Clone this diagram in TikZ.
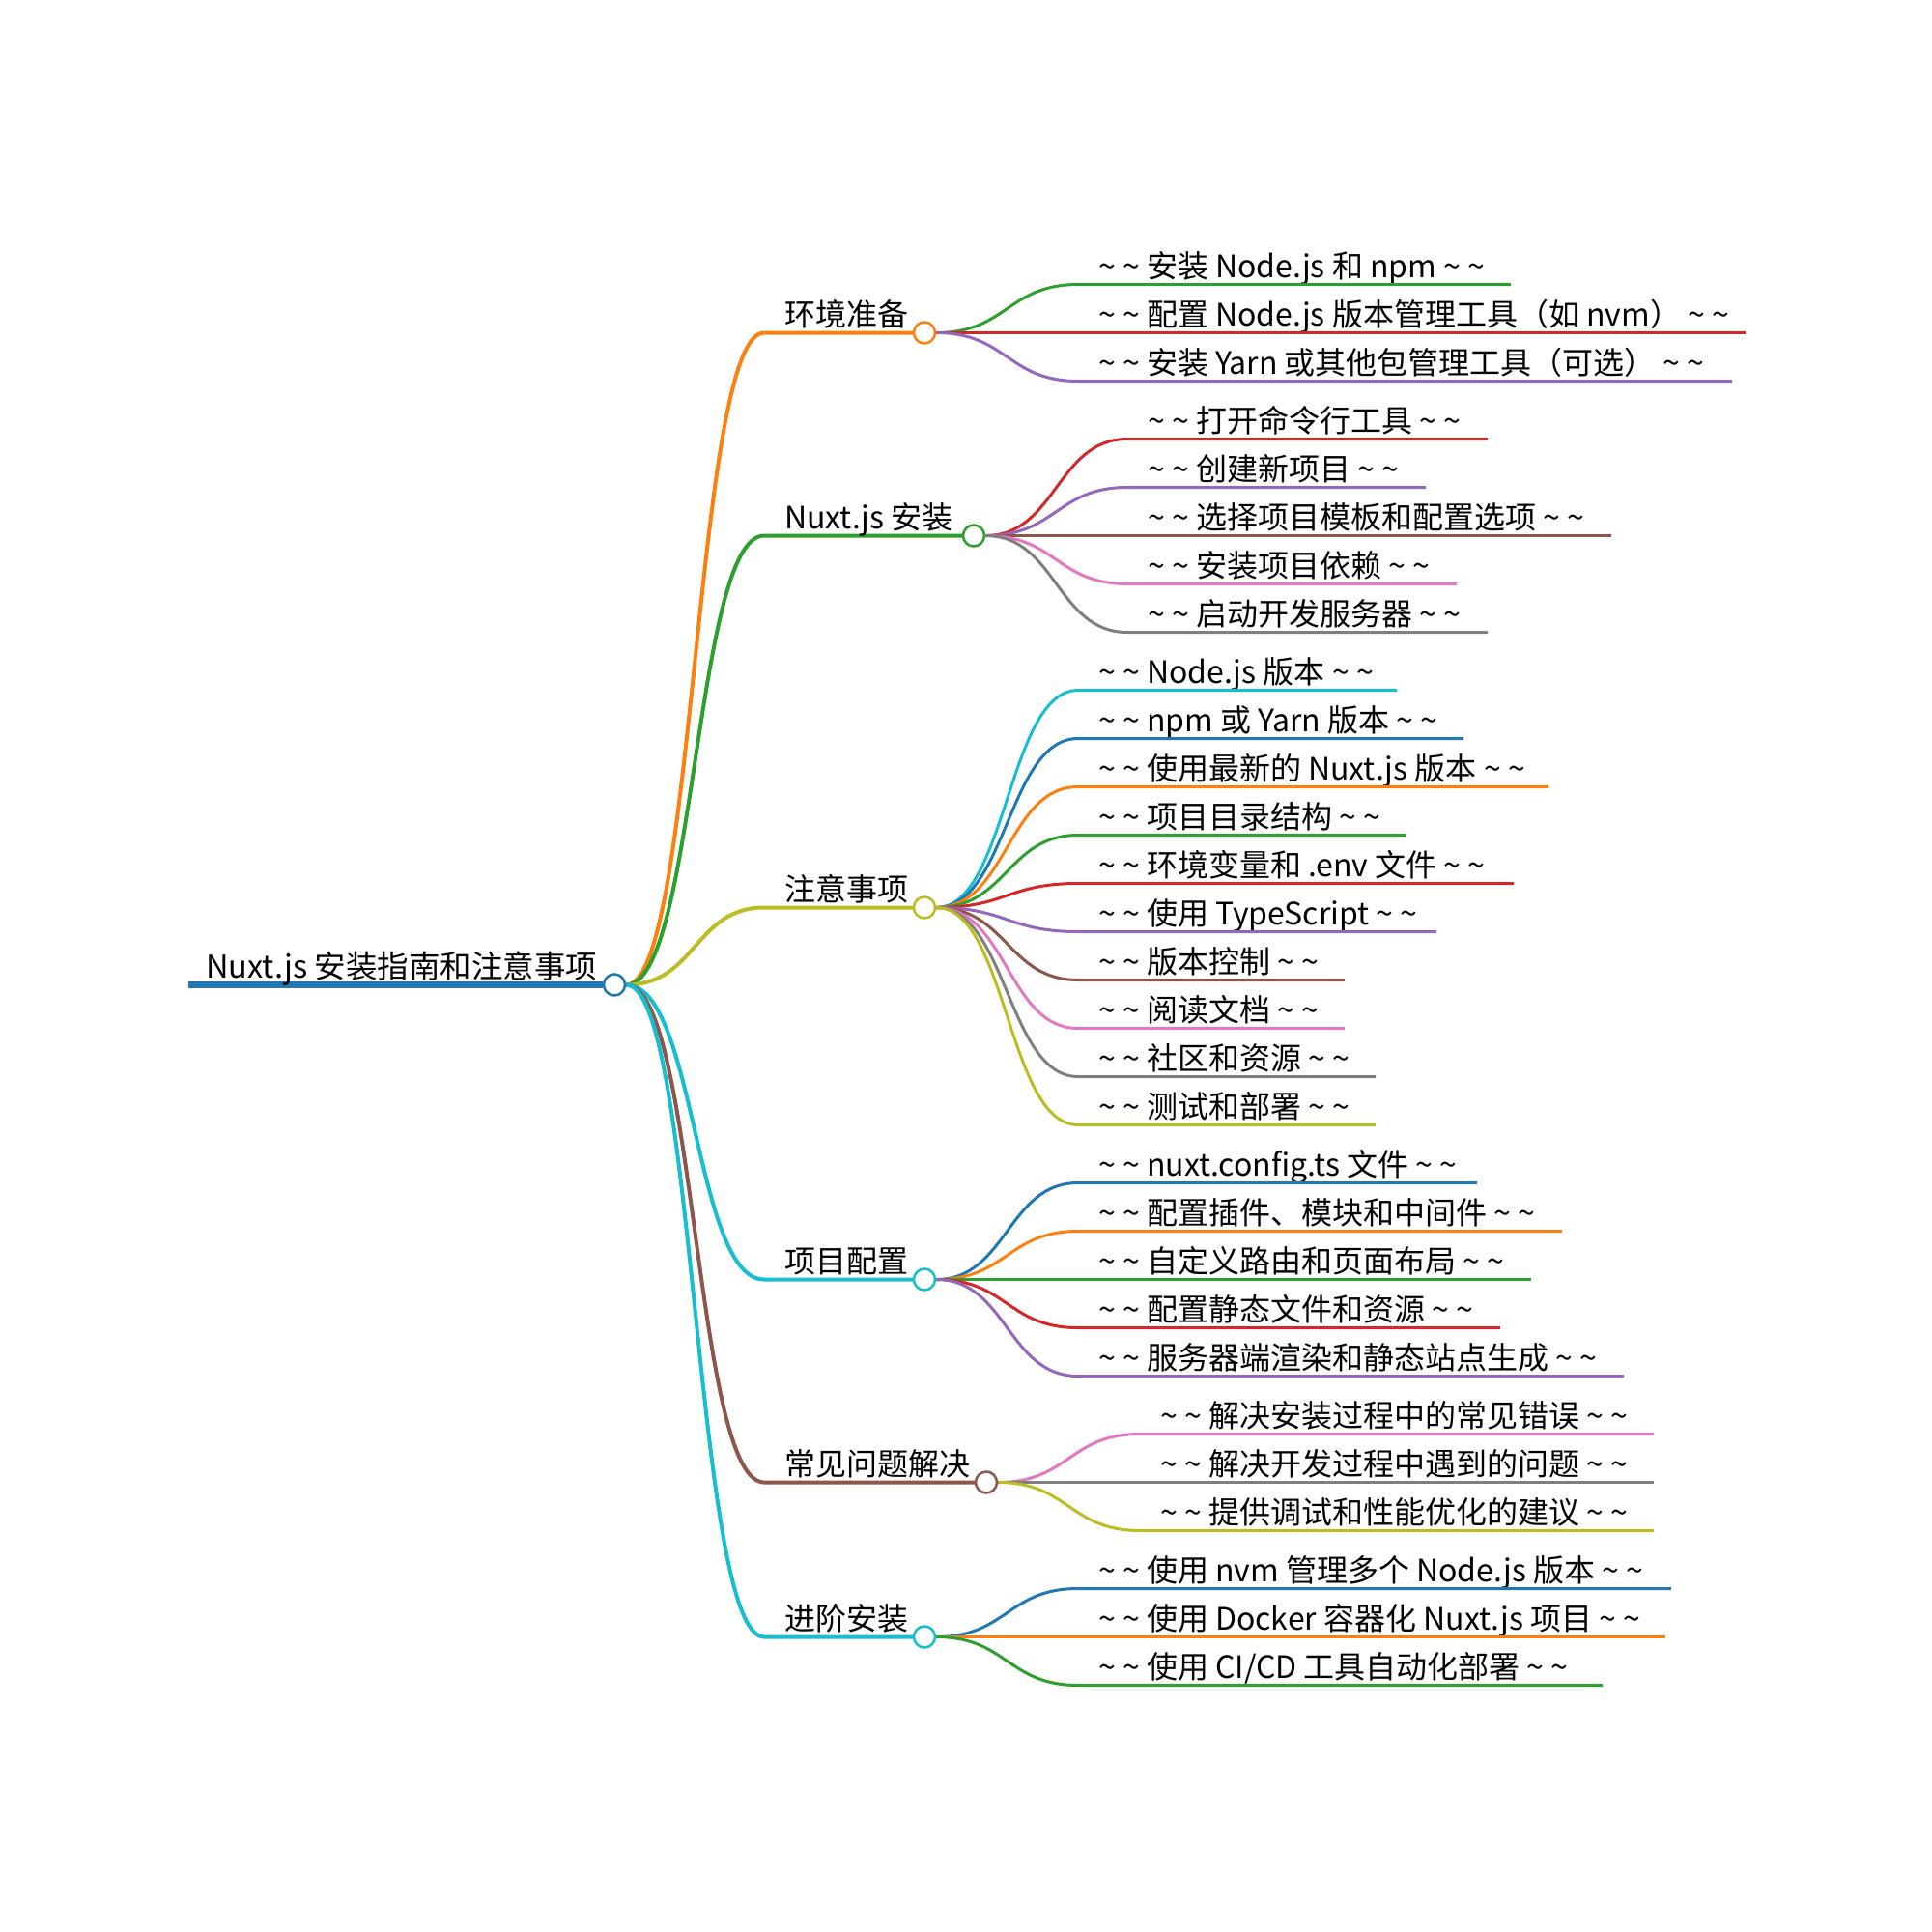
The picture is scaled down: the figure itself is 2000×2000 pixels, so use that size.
\documentclass[tikz,border=0pt]{standalone}
\usepackage{fontspec}
\setmainfont{Noto Sans CJK SC}
\usetikzlibrary{backgrounds}
\definecolor{cblue}{HTML}{1F77B4}
\definecolor{corange}{HTML}{FF7F0E}
\definecolor{cgreen}{HTML}{2CA02C}
\definecolor{cred}{HTML}{D62728}
\definecolor{cpurple}{HTML}{9467BD}
\definecolor{cbrown}{HTML}{8C564B}
\definecolor{cpink}{HTML}{E377C2}
\definecolor{cgray}{HTML}{7F7F7F}
\definecolor{colive}{HTML}{BCBD22}
\definecolor{ccyan}{HTML}{17BECF}
\newcommand{\tld}{\textasciitilde\ \textasciitilde}
\newcommand{\leaf}[1]{\tld\ #1\ \tld}

\begin{document}
\begin{tikzpicture}[x=1pt,y=-1pt,
  lbl/.style={anchor=base west,inner sep=0pt,font=\fontsize{32}{32}\selectfont},
  dot/.style={circle,draw=#1,fill=white,line width=2.5pt,minimum size=22pt,inner sep=0pt},
  branch/.style={draw=#1,line width=4pt},
  twig/.style={draw=#1,line width=3pt}]
  \useasboundingbox (0,0) rectangle (2000,2000);

  %root
  \coordinate (root-s) at (195,1019.5);
  \node[lbl,font=\fontsize{32.5}{32.5}\selectfont] (root) at (213,1012.5) {Nuxt.js 安装指南和注意事项};
  \node[dot=cblue] (root-o) at (636,1019.5) {};
  \begin{scope}[on background layer]
    \draw[line width=7pt,cblue] (root-s) -- (root-o.west);
  \end{scope}

  %first level
  \foreach \n/\y/\x/\c/\t in {hj/344.5/957/corange/环境准备,
                              az/554.5/1008/cgreen/Nuxt.js 安装,
                              zy/939.5/957/colive/注意事项,
                              xm/1324.5/957/ccyan/项目配置,
                              cj/1534.5/1021/cbrown/常见问题解决,
                              jj/1694.5/957/ccyan/进阶安装} {
    \coordinate (\n-s) at (791,\y);
    \node[lbl] (\n) at (812,\y-7) {\t};
    \node[dot=\c] (\n-o) at (\x,\y) {};
    \begin{scope}[on background layer]
      \draw[branch=\c] (root-o.east) .. controls +(72,0) and +(-72,0) .. (\n-s) -- (\n-o.west);
    \end{scope}
  }

  \begin{scope}[on background layer]
  %leaves of hj
  \foreach \i/\y/\e/\c/\t in {1/294.5/1564/cgreen/安装 Node.js 和 npm,
                              2/344.5/1807/cred/配置 Node.js 版本管理工具（如 nvm）,
                              3/394.5/1793/cpurple/安装 Yarn 或其他包管理工具（可选）} {
    \coordinate (hj\i-s) at (1116,\y);
    \coordinate (hj\i-e) at (\e,\y);
    \node[lbl] (hj\i) at (1137,\y-7) {\leaf{\t}};
    \draw[twig=\c] (hj-o.east) .. controls +(73,0) and +(-73,0) .. (hj\i-s) -- (hj\i-e);
  }
  %leaves of az
  \foreach \i/\y/\e/\c/\t in {1/454.5/1540/cred/打开命令行工具,
                              2/504.5/1476/cpurple/创建新项目,
                              3/554.5/1668/cbrown/选择项目模板和配置选项,
                              4/604.5/1508/cpink/安装项目依赖,
                              5/654.5/1540/cgray/启动开发服务器} {
    \coordinate (az\i-s) at (1167,\y);
    \coordinate (az\i-e) at (\e,\y);
    \node[lbl] (az\i) at (1188,\y-7) {\leaf{\t}};
    \draw[twig=\c] (az-o.east) .. controls +(73,0) and +(-73,0) .. (az\i-s) -- (az\i-e);
  }
  %leaves of zy
  \foreach \i/\y/\e/\c/\t in {1/714.5/1446/ccyan/Node.js 版本,
                              2/764.5/1515/cblue/npm 或 Yarn 版本,
                              3/814.5/1603/corange/使用最新的 Nuxt.js 版本,
                              4/864.5/1456/cgreen/项目目录结构,
                              5/914.5/1567/cred/环境变量和 .env 文件,
                              6/964.5/1487/cpurple/使用 TypeScript,
                              7/1014.5/1392/cbrown/版本控制,
                              8/1064.5/1392/cpink/阅读文档,
                              9/1114.5/1424/cgray/社区和资源,
                              10/1164.5/1424/colive/测试和部署} {
    \coordinate (zy\i-s) at (1116,\y);
    \coordinate (zy\i-e) at (\e,\y);
    \node[lbl] (zy\i) at (1137,\y-7) {\leaf{\t}};
    \draw[twig=\c] (zy-o.east) .. controls +(73,0) and +(-73,0) .. (zy\i-s) -- (zy\i-e);
  }
  %leaves of xm
  \foreach \i/\y/\e/\c/\t in {1/1224.5/1529/cblue/nuxt.config.ts 文件,
                              2/1274.5/1617/corange/配置插件、模块和中间件,
                              3/1324.5/1585/cgreen/自定义路由和页面布局,
                              4/1374.5/1553/cred/配置静态文件和资源,
                              5/1424.5/1681/cpurple/服务器端渲染和静态站点生成} {
    \coordinate (xm\i-s) at (1116,\y);
    \coordinate (xm\i-e) at (\e,\y);
    \node[lbl] (xm\i) at (1137,\y-7) {\leaf{\t}};
    \draw[twig=\c] (xm-o.east) .. controls +(73,0) and +(-73,0) .. (xm\i-s) -- (xm\i-e);
  }
  %leaves of cj
  \foreach \i/\y/\e/\c/\t in {1/1484.5/1712/cpink/解决安装过程中的常见错误,
                              2/1534.5/1712/cgray/解决开发过程中遇到的问题,
                              3/1584.5/1712/colive/提供调试和性能优化的建议} {
    \coordinate (cj\i-s) at (1180,\y);
    \coordinate (cj\i-e) at (\e,\y);
    \node[lbl] (cj\i) at (1201,\y-7) {\leaf{\t}};
    \draw[twig=\c] (cj-o.east) .. controls +(73,0) and +(-73,0) .. (cj\i-s) -- (cj\i-e);
  }
  %leaves of jj
  \foreach \i/\y/\e/\c/\t in {1/1644.5/1730/cblue/使用 nvm 管理多个 Node.js 版本,
                              2/1694.5/1724/corange/使用 Docker 容器化 Nuxt.js 项目,
                              3/1744.5/1659/cgreen/{使用 CI/CD 工具自动化部署}} {
    \coordinate (jj\i-s) at (1116,\y);
    \coordinate (jj\i-e) at (\e,\y);
    \node[lbl] (jj\i) at (1137,\y-7) {\leaf{\t}};
    \draw[twig=\c] (jj-o.east) .. controls +(73,0) and +(-73,0) .. (jj\i-s) -- (jj\i-e);
  }
  \end{scope}
\end{tikzpicture}
\end{document}
